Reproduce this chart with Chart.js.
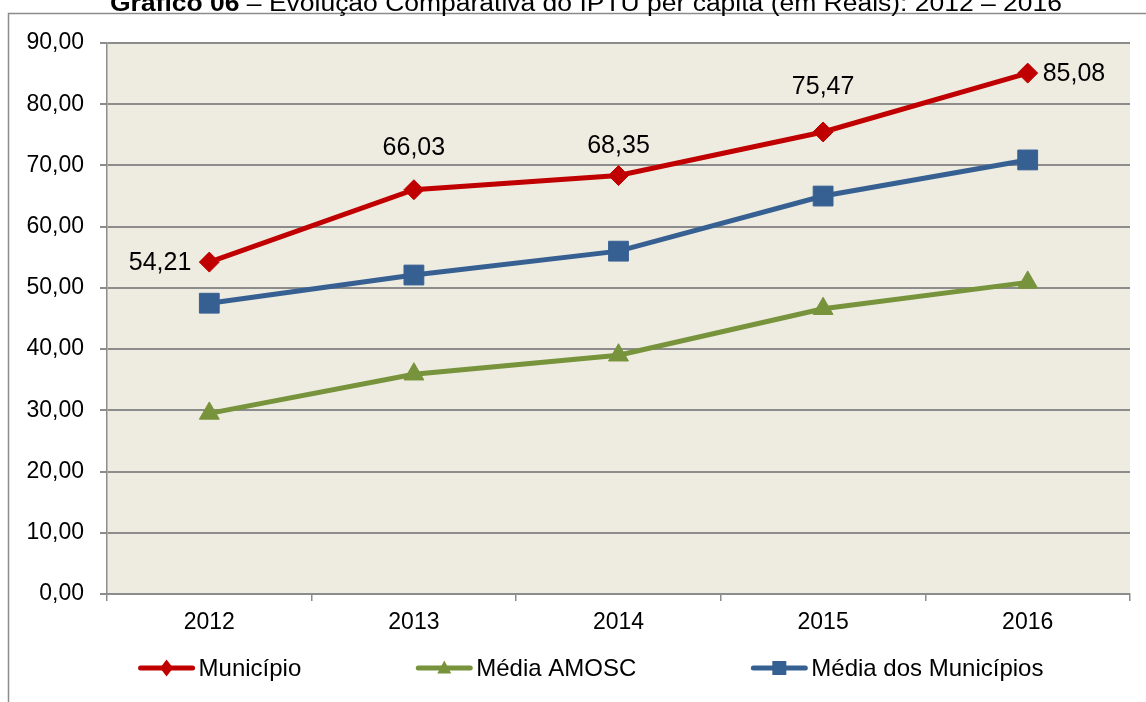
<!DOCTYPE html>
<html>
<head>
<meta charset="utf-8">
<script src="https://cdn.jsdelivr.net/npm/chart.js@4.4.1/dist/chart.umd.min.js"></script>
<style>
html,body{margin:0;padding:0;background:#fff;}
#wrap{width:1146px;height:702px;position:relative;}
</style>
</head>
<body>
<div id="wrap"><canvas id="c" width="1146" height="702"></canvas></div>
<script>
const categories = ['2012', '2013', '2014', '2015', '2016'];
const municipio = [54.21, 66.03, 68.35, 75.47, 85.08];
const mediaAmosc = [29.5, 35.9, 39.0, 46.6, 50.9];
const mediaMunicipios = [47.5, 52.1, 56.0, 65.0, 70.9];
const seriesNames = ['Município', 'Média AMOSC', 'Média dos Municípios'];
const yTicks = [0, 10, 20, 30, 40, 50, 60, 70, 80, 90];
const titleBold = 'Gráfico 06';
const titleRest = ' – Evolução Comparativa do IPTU per capita (em Reais): 2012 – 2016';

const RED = '#C00000', GREEN = '#77933C', BLUE = '#376092';
const FONT = "'Liberation Sans', Arial, sans-serif";
const fmt = v => v.toFixed(2).replace('.', ',');

const framePlugin = {
  id: 'frame',
  beforeDraw(chart) {
    const ctx = chart.ctx, a = chart.chartArea;
    ctx.save();
    ctx.fillStyle = '#EEECE1';
    ctx.fillRect(a.left, a.top, a.right - a.left, a.bottom - a.top);
    ctx.strokeStyle = '#8C8C8C';
    ctx.lineWidth = 1.5;
    ctx.beginPath();
    ctx.moveTo(8.5, 702);
    ctx.lineTo(8.5, 13.5);
    ctx.lineTo(1146, 13.5);
    ctx.stroke();
    // title (partly cut at top)
    ctx.fillStyle = '#000';
    ctx.textBaseline = 'alphabetic';
    ctx.font = 'bold 23px ' + FONT;
    const wb = ctx.measureText(titleBold).width;
    ctx.font = '23px ' + FONT;
    const wr = ctx.measureText(titleRest).width;
    const target = 952, sx = target / (wb + wr);
    ctx.translate(110, 11);
    ctx.scale(sx, 1);
    ctx.font = 'bold 23px ' + FONT;
    ctx.fillText(titleBold, 0, 0);
    ctx.font = '23px ' + FONT;
    ctx.fillText(titleRest, wb, 0);
    ctx.restore();
  },
  afterDraw(chart) {
    // legend
    const ctx = chart.ctx;
    const cy = 668;
    const font = '24px ' + FONT;
    ctx.save();
    ctx.font = font;
    const items = chart.data.datasets.map(ds => ({ label: ds.label, color: ds.borderColor, style: ds.pointStyle, w: ctx.measureText(ds.label).width }));
    const lineLen = 56, gapTxt = 4, gapItem = 115;
    let total = 0;
    items.forEach((it, i) => { total += lineLen + gapTxt + it.w + (i ? gapItem : 0); });
    let x = 591 - total / 2;
    items.forEach(it => {
      ctx.strokeStyle = it.color; ctx.fillStyle = it.color;
      ctx.lineWidth = 5; ctx.lineCap = 'round';
      ctx.beginPath(); ctx.moveTo(x + 2, cy); ctx.lineTo(x + lineLen - 2, cy); ctx.stroke();
      const mx = x + lineLen / 2;
      ctx.beginPath();
      if (it.style === 'rectRot') {
        ctx.moveTo(mx, cy - 8.5); ctx.lineTo(mx + 6.5, cy); ctx.lineTo(mx, cy + 8.5); ctx.lineTo(mx - 6.5, cy);
      } else if (it.style === 'triangle') {
        ctx.moveTo(mx, cy - 7.5); ctx.lineTo(mx + 7, cy + 5.5); ctx.lineTo(mx - 7, cy + 5.5);
      } else {
        ctx.rect(mx - 7, cy - 7, 14, 14);
      }
      ctx.closePath(); ctx.fill();
      ctx.fillStyle = '#000'; ctx.textBaseline = 'middle'; ctx.textAlign = 'left';
      ctx.fillText(it.label, x + lineLen + gapTxt, cy + 1);
      x += lineLen + gapTxt + it.w + gapItem;
    });
    ctx.restore();
  },
  afterDatasetsDraw(chart) {
    const ctx = chart.ctx;
    const meta = chart.getDatasetMeta(0);
    const ds = chart.data.datasets[0];
    const pos = [['left', 18, 0], ['above', 0, -42], ['above', 0, -29], ['above', 0, -45], ['right', 15, 0]];
    ctx.save();
    ctx.font = '25px ' + FONT;
    ctx.fillStyle = '#000';
    ctx.textBaseline = 'middle';
    meta.data.forEach((pt, i) => {
      const p = pos[i];
      const t = fmt(ds.data[i]);
      if (p[0] === 'left') { ctx.textAlign = 'right'; ctx.fillText(t, pt.x - p[1], pt.y + 1); }
      else if (p[0] === 'right') { ctx.textAlign = 'left'; ctx.fillText(t, pt.x + p[1], pt.y + 1); }
      else { ctx.textAlign = 'center'; ctx.fillText(t, pt.x, pt.y + p[2]); }
    });
    ctx.restore();
  }
};

const mk = (label, data, color, style, radius) => ({
  label, data,
  borderColor: color, backgroundColor: color,
  borderWidth: 5, tension: 0,
  pointStyle: style, pointRadius: radius, pointHoverRadius: radius,
  pointBackgroundColor: color, pointBorderColor: color, pointBorderWidth: 1
});

new Chart(document.getElementById('c'), {
  type: 'line',
  data: {
    labels: categories,
    datasets: [
      mk(seriesNames[0], municipio, RED, 'rectRot', 10),
      mk(seriesNames[1], mediaAmosc, GREEN, 'triangle', 11.5),
      mk(seriesNames[2], mediaMunicipios, BLUE, 'rect', 14)
    ]
  },
  options: {
    responsive: false,
    animation: false,
    layout: { padding: { top: 43, left: 7, right: 16, bottom: 58 } },
    plugins: { legend: { display: false }, title: { display: false }, tooltip: { enabled: false } },
    scales: {
      x: {
        offset: true,
        grid: { offset: true, drawOnChartArea: false, drawTicks: true, tickLength: 7, color: '#8C8C8C', lineWidth: 1.5 },
        border: { color: '#8C8C8C', width: 2 },
        ticks: { color: '#000', font: { family: FONT, size: 23 }, padding: 8 },
        afterFit(s) { s.height = 50; }
      },
      y: {
        min: 0, max: 90,
        afterBuildTicks(s) { s.ticks = yTicks.map(v => ({ value: v })); },
        grid: { color: '#8C8C8C', lineWidth: 2, tickLength: 7, drawTicks: true },
        border: { color: '#8C8C8C', width: 1.5 },
        ticks: { color: '#000', font: { family: FONT, size: 23 }, padding: 16, callback: v => fmt(v) },
        afterFit(s) { s.width = 100; }
      }
    }
  },
  plugins: [framePlugin]
});
</script>
</body>
</html>
